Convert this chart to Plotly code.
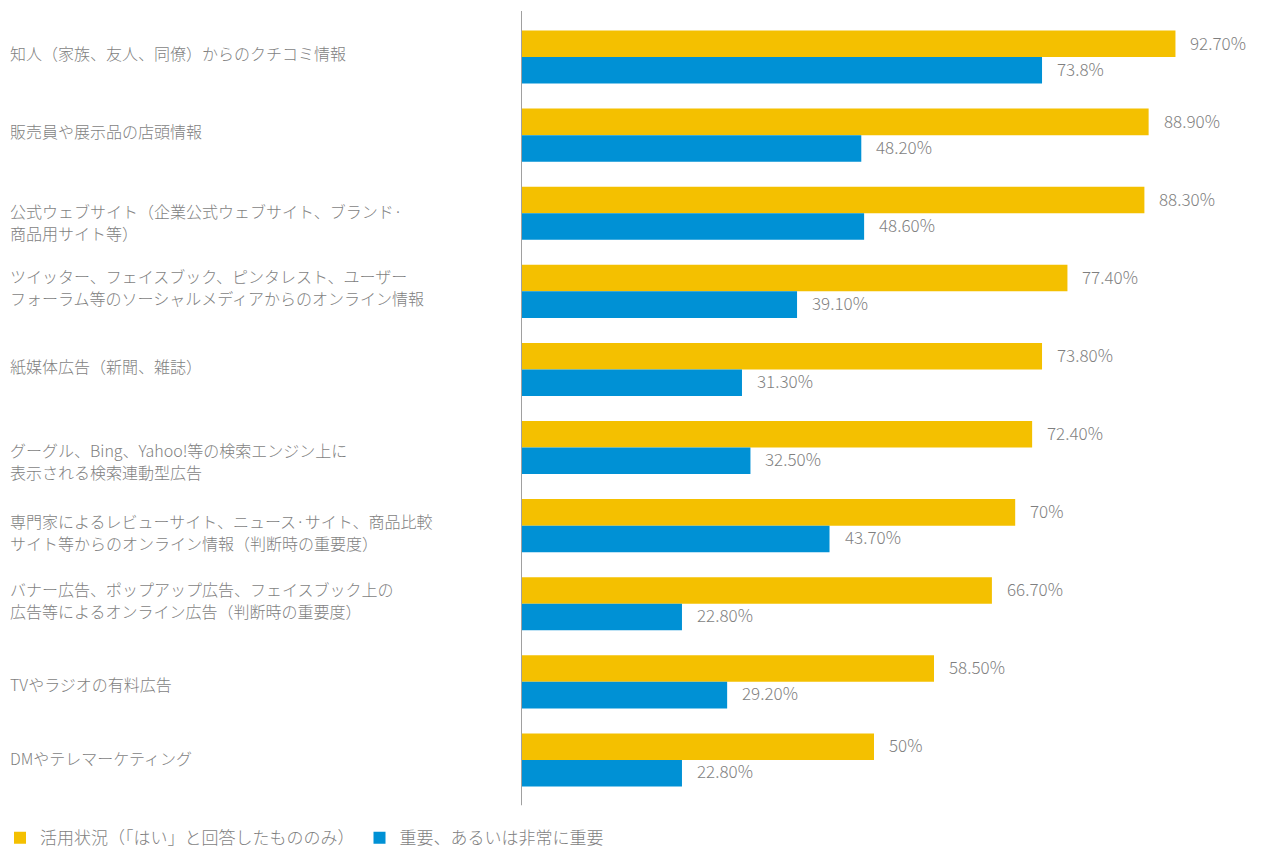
import plotly.graph_objects as go

categories = [
    "知人（家族、友人、同僚）からのクチコミ情報",
    "販売員や展示品の店頭情報",
    "公式ウェブサイト（企業公式ウェブサイト、ブランド·\n商品用サイト等）",
    "ツイッター、フェイスブック、ピンタレスト、ユーザー\nフォーラム等のソーシャルメディアからのオンライン情報",
    "紙媒体広告（新聞、雑誌）",
    "グーグル、Bing、Yahoo!等の検索エンジン上に\n表示される検索連動型広告",
    "専門家によるレビューサイト、ニュース·サイト、商品比較\nサイト等からのオンライン情報（判断時の重要度）",
    "バナー広告、ポップアップ広告、フェイスブック上の\n広告等によるオンライン広告（判断時の重要度）",
    "TVやラジオの有料広告",
    "DMやテレマーケティング",
]
usage_values = [92.7, 88.9, 88.3, 77.4, 73.8, 72.4, 70.0, 66.7, 58.5, 50.0]
importance_values = [73.8, 48.2, 48.6, 39.1, 31.3, 32.5, 43.7, 22.8, 29.2, 22.8]
usage_labels = ["92.70%", "88.90%", "88.30%", "77.40%", "73.80%", "72.40%", "70%", "66.70%", "58.50%", "50%"]
importance_labels = ["73.8%", "48.20%", "48.60%", "39.10%", "31.30%", "32.50%", "43.70%", "22.80%", "29.20%", "22.80%"]
series_names = ["活用状況（「はい」と回答したもののみ）", "重要、あるいは非常に重要"]

# style
YELLOW = "#F4C000"
BLUE = "#0091D5"
GRAY = "#7F7F7F"
FONT = "Noto Sans CJK JP"
first_line_offset = [-4, -4, -2, -15, -3, 2.5, -4.5, -14.5, 2, -2]  # px below group centre
LINE_GAP = 22

fig = go.Figure()
fig.add_trace(go.Bar(y=categories, x=usage_values, orientation="h", name=series_names[0],
                     marker=dict(color=YELLOW, line=dict(width=0))))
fig.add_trace(go.Bar(y=categories, x=importance_values, orientation="h", name=series_names[1],
                     marker=dict(color=BLUE, line=dict(width=0))))

annotations = []
for i, cat in enumerate(categories):
    for j, line in enumerate(cat.split("\n")):
        annotations.append(dict(x=0, xref="paper", y=cat, yref="y", text=line, showarrow=False,
                                xanchor="left", yanchor="middle", align="left", xshift=-513,
                                yshift=-(first_line_offset[i] + j * LINE_GAP),
                                font=dict(family=FONT, size=16, color=GRAY, weight=300)))
    annotations.append(dict(x=usage_values[i], y=cat, text=usage_labels[i], showarrow=False,
                            xanchor="left", yanchor="middle", xshift=13, yshift=15,
                            font=dict(family=FONT, size=17, color=GRAY, weight=300)))
    annotations.append(dict(x=importance_values[i], y=cat, text=importance_labels[i], showarrow=False,
                            xanchor="left", yanchor="middle", xshift=13, yshift=-11,
                            font=dict(family=FONT, size=17, color=GRAY, weight=300)))

fig.update_layout(
    width=1263, height=850,
    margin=dict(l=521, r=36, t=18, b=51),
    paper_bgcolor="white", plot_bgcolor="white",
    barmode="group", bargap=0.32, bargroupgap=0,
    font=dict(family=FONT, size=16, color=GRAY),
    xaxis=dict(range=[0, 100], showgrid=False, zeroline=False, showticklabels=False,
               showline=False, ticks=""),
    yaxis=dict(autorange="reversed", showgrid=False, zeroline=False, showticklabels=False,
               showline=False, ticks=""),
    showlegend=True,
    legend=dict(orientation="h", xref="container", yref="container", x=-0.021, y=0.035,
                xanchor="left", yanchor="top", traceorder="normal",
                font=dict(family=FONT, size=17, color=GRAY, weight=300), itemwidth=30),
    annotations=annotations,
    shapes=[dict(type="line", xref="x", yref="paper", x0=0, x1=0, y0=-0.008, y1=1.009,
                 line=dict(color="#A0A0A0", width=2))],
)

fig.write_html("out.html")
